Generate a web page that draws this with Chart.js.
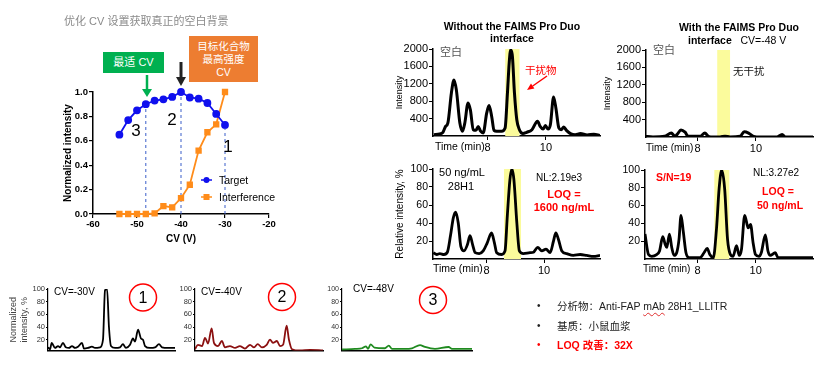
<!DOCTYPE html>
<html>
<head>
<meta charset="utf-8">
<script src="https://cdn.jsdelivr.net/npm/chart.js@4.4.1/dist/chart.umd.min.js"></script>
<style>
  body { margin: 0; background: #fff; }
  #page { position: relative; width: 836px; height: 372px; overflow: hidden; font-family: "Liberation Sans", "Noto Sans CJK SC", sans-serif; color: #000; }
  canvas, svg, .t { position: absolute; }
  .t { white-space: nowrap; transform: translateY(-50%); line-height: 1.15; }
  .c { transform: translate(-50%, -50%); text-align: center; }
  .red { color: #ff0000; font-weight: bold; }
  .box { position: absolute; color: #fff; text-align: center; }
</style>
</head>
<body>
<div id="page">
  <canvas id="cvChart" width="223" height="164" style="left:58px;top:82px"></canvas>
  <canvas id="chromA" width="215" height="113" style="left:390px;top:39px"></canvas>
  <canvas id="chromB" width="218" height="113" style="left:600px;top:40px"></canvas>
  <canvas id="chromC" width="215" height="116" style="left:390px;top:159px"></canvas>
  <canvas id="chromD" width="218" height="115" style="left:600px;top:160px"></canvas>
  <canvas id="mini1" width="178" height="77" style="left:0px;top:279px"></canvas>
  <canvas id="mini2" width="176" height="77" style="left:150px;top:279px"></canvas>
  <canvas id="mini3" width="175" height="77" style="left:300px;top:279px"></canvas>

  <svg width="836" height="372" style="left:0;top:0">
    <!-- arrows -->
    <line x1="147" y1="75" x2="147" y2="90" stroke="#00b050" stroke-width="2.5"/>
    <polygon points="142,89 152,89 147,97" fill="#00b050"/>
    <line x1="181" y1="62" x2="181" y2="78" stroke="#222" stroke-width="3"/>
    <polygon points="176,77 186,77 181,86" fill="#222"/>
    <line x1="547" y1="76" x2="532.7" y2="86" stroke="#ff0000" stroke-width="1.5"/>
    <polygon points="527,90 534.4,88.5 531,83.5" fill="#ff0000"/>
    <!-- legend markers -->
    <line x1="201" y1="180" x2="212" y2="180" stroke="#1010ee" stroke-width="1.5"/>
    <circle cx="206.5" cy="180" r="3" fill="#1010ee"/>
    <line x1="201" y1="197" x2="212" y2="197" stroke="#ff8c1a" stroke-width="1.5"/>
    <rect x="203.5" y="194" width="6" height="6" fill="#ff8c1a"/>
    <!-- numbered circles -->
    <circle cx="143" cy="297.5" r="13.5" fill="none" stroke="#ff0000" stroke-width="1.5"/>
    <circle cx="282" cy="297" r="13.5" fill="none" stroke="#ff0000" stroke-width="1.5"/>
    <circle cx="433" cy="300" r="13.5" fill="none" stroke="#ff0000" stroke-width="1.5"/>
  </svg>

  <div class="t" style="left:64px;top:21px;font-size:11px;color:#8a8a8a">优化 CV 设置获取真正的空白背景</div>
  <div class="box" style="left:103px;top:52px;width:61px;height:21px;line-height:21px;font-size:11px;background:#00b050">最适 CV</div>
  <div class="box" style="left:189px;top:36px;width:69px;height:42px;padding-top:4px;line-height:13px;font-size:10.5px;background:#ed7d31">目标化合物<br>最高强度<br>CV</div>
  <div class="t c" style="left:136px;top:131px;font-size:17px">3</div>
  <div class="t c" style="left:172px;top:120px;font-size:17px">2</div>
  <div class="t c" style="left:228px;top:147px;font-size:17px">1</div>
  <div class="t" style="left:219px;top:180px;font-size:10.5px">Target</div>
  <div class="t" style="left:219px;top:197px;font-size:10.5px">Interference</div>

  <div class="t c" style="left:512px;top:26px;font-size:10.5px;font-weight:bold">Without the FAIMS Pro Duo</div>
  <div class="t c" style="left:512px;top:38px;font-size:10.5px;font-weight:bold">interface</div>
  <div class="t c" style="left:739px;top:27px;font-size:10.5px;font-weight:bold">With the FAIMS Pro Duo</div>
  <div class="t" style="left:688px;top:40px;font-size:10.5px"><b>interface</b>&nbsp;&nbsp;&nbsp;CV=-48 V</div>
  <div class="t" style="left:440px;top:52px;font-size:11px;color:#555">空白</div>
  <div class="t" style="left:653px;top:50px;font-size:11px;color:#555">空白</div>
  <div class="t" style="left:525px;top:70px;font-size:10.5px;color:#ff0000">干扰物</div>
  <div class="t" style="left:733px;top:71px;font-size:10.5px;color:#111">无干扰</div>
  <div class="t" style="left:435px;top:146px;font-size:10.5px">Time (min)</div>
  <div class="t" style="left:646px;top:148px;font-size:10px">Time (min)</div>
  <div class="t" style="left:433px;top:268px;font-size:10.5px">Time (min)</div>
  <div class="t" style="left:643px;top:269px;font-size:10px">Time (min)</div>

  <div class="t c" style="left:462px;top:172px;font-size:11px">50 ng/mL</div>
  <div class="t c" style="left:461px;top:186px;font-size:11px">28H1</div>
  <div class="t" style="left:536px;top:178px;font-size:10px">NL:2.19e3</div>
  <div class="t c red" style="left:564px;top:194px;font-size:11px">LOQ =</div>
  <div class="t c red" style="left:564px;top:207px;font-size:11px">1600 ng/mL</div>
  <div class="t" style="left:656px;top:177px;font-size:10.5px;color:#ff0000;font-weight:bold">S/N=19</div>
  <div class="t" style="left:753px;top:173px;font-size:10px">NL:3.27e2</div>
  <div class="t c red" style="left:778px;top:191px;font-size:10.5px">LOQ =</div>
  <div class="t c red" style="left:780px;top:205px;font-size:10.5px">50 ng/mL</div>

  <div class="t" style="left:54px;top:292px;font-size:10px">CV=-30V</div>
  <div class="t" style="left:201px;top:292px;font-size:10px">CV=-40V</div>
  <div class="t" style="left:353px;top:289px;font-size:10px">CV=-48V</div>
  <div class="t c" style="left:143px;top:298px;font-size:16px">1</div>
  <div class="t c" style="left:282px;top:297px;font-size:16px">2</div>
  <div class="t c" style="left:433px;top:300px;font-size:16px">3</div>

  <div class="t" style="left:537px;top:306px;font-size:10px;color:#222">•</div>
  <div class="t" style="left:537px;top:326px;font-size:10px;color:#222">•</div>
  <div class="t" style="left:537px;top:345px;font-size:10px;color:#ff0000">•</div>
  <div class="t" style="left:557px;top:306px;font-size:10.5px;color:#222">分析物：Anti-FAP <span style="text-decoration:underline wavy #e03030;text-decoration-thickness:1px;text-underline-offset:2px">mAb</span> 28H1_LLITR</div>
  <div class="t" style="left:557px;top:326px;font-size:10.5px;color:#222">基质：小鼠血浆</div>
  <div class="t red" style="left:557px;top:345px;font-size:10.5px">LOQ 改善：32X</div>
</div>

<script>
Chart.defaults.font.family = '"Liberation Sans", "Noto Sans CJK SC", sans-serif';
Chart.defaults.color = "#000";

// CV optimisation curve
const cvValues = [-54, -52, -50, -48, -46, -44, -42, -40, -38, -36, -34, -32, -30];
const targetIntensity = [0.65, 0.77, 0.85, 0.9, 0.93, 0.94, 0.96, 1.0, 0.955, 0.945, 0.91, 0.82, 0.73];
const interferenceIntensity = [0, 0, 0, 0, 0.005, 0.065, 0.055, 0.13, 0.24, 0.52, 0.67, 0.735, 1.0];
const guideCv = [-48, -40, -30];
const guideTop = [0.9, 1.0, 0.73];

// chromatograms, time in min
const timeTicks = [8, 10];
const intensityTicks = [400, 800, 1200, 1600, 2000];
const percentTicks = [20, 40, 60, 80, 100];
const bandTime = [8.6, 9.1];

const blankNoFaimsTime = [6.16, 6.36, 6.47, 6.56, 6.64, 6.76, 6.85, 6.93, 7.05, 7.14, 7.22, 7.33, 7.41, 7.51, 7.6, 7.68, 7.76, 7.85, 7.97, 8.05, 8.14, 8.22, 8.31, 8.48, 8.6, 8.68, 8.74, 8.79, 8.85, 8.92, 9.0, 9.09, 9.21, 9.34, 9.52, 9.71, 9.8, 9.9, 9.98, 10.07, 10.15, 10.26, 10.34, 10.44, 10.52, 10.61, 10.7, 10.84, 11.0, 11.18, 11.41, 11.64, 11.85];
const blankNoFaims = [30, 50, 85, 220, 300, 990, 1290, 1060, 300, 110, 300, 760, 600, 145, 130, 220, 110, 70, 530, 700, 450, 130, 110, 110, 185, 990, 1680, 1980, 1830, 990, 375, 145, 55, 85, 145, 340, 220, 160, 240, 160, 260, 895, 640, 185, 145, 205, 130, 55, 30, 55, 25, 40, 10];

const blankFaimsTime = [6.18, 6.47, 6.87, 7.1, 7.22, 7.3, 7.43, 7.57, 7.68, 7.85, 8.08, 8.25, 8.37, 8.54, 8.77, 8.94, 9.11, 9.46, 9.6, 9.75, 9.92, 10.15, 10.72, 10.9, 11.01, 11.96];
const blankFaims = [15, 0, 15, 90, 15, 60, 160, 110, 15, 15, 15, 90, 15, 0, 0, 20, 0, 15, 120, 90, 15, 0, 0, 60, 0, 0];

const sampleNoFaimsTime = [6.14, 6.26, 6.37, 6.51, 6.63, 6.74, 6.84, 6.92, 7.01, 7.1, 7.21, 7.33, 7.42, 7.51, 7.6, 7.74, 7.88, 8.02, 8.17, 8.27, 8.35, 8.52, 8.64, 8.72, 8.81, 8.88, 8.95, 9.05, 9.14, 9.28, 9.51, 9.63, 9.78, 9.92, 10.07, 10.21, 10.33, 10.41, 10.5, 10.62, 10.79, 11.02, 11.26, 11.49, 11.72, 11.95];
const sampleNoFaims = [7, 5, 6, 5, 7.5, 26, 46, 52, 40, 14, 9, 16, 26, 16, 7, 6, 9, 18, 29, 18, 7, 5, 9, 48, 88, 100, 88, 41, 9, 6, 7, 7.5, 13, 9, 11, 7, 20, 29, 22, 9, 6, 4, 5, 4, 3, 4];

const sampleFaimsTime = [6.19, 6.31, 6.42, 6.59, 6.69, 6.8, 6.88, 6.94, 7.03, 7.11, 7.19, 7.28, 7.36, 7.43, 7.51, 7.6, 7.71, 7.91, 8.08, 8.22, 8.33, 8.42, 8.54, 8.65, 8.74, 8.83, 8.93, 9.03, 9.13, 9.22, 9.34, 9.43, 9.51, 9.62, 9.74, 9.82, 9.91, 9.99, 10.11, 10.19, 10.33, 10.42, 10.5, 10.67, 10.77, 11.05, 11.97];
const sampleFaims = [28, 5, 3, 5, 9, 25, 17, 13, 28, 13, 4, 7, 22, 49, 30, 7, 1.5, 1.5, 1.5, 7, 12, 5, 1.5, 34, 79, 100, 79, 22, 5, 3, 15, 4, 11, 49, 35, 39, 18, 5, 3, 7, 27, 9, 4, 7, 1.5, 1.5, 1.5];

// small traces at three CVs, x is relative run position 0-100
const cv30Pos = [0, 1.6, 2.9, 5.5, 7.9, 9.4, 11.8, 14, 16.5, 18.9, 21.3, 23.6, 26.8, 28.3, 31.5, 34.6, 37, 41, 43.3, 44.9, 46.5, 48, 49.6, 52.8, 56.7, 59, 61.4, 64.6, 66.9, 68.5, 70.9, 73.2, 74.8, 76.4, 80.3, 84.3, 87.4, 89.8, 94.5, 100];
const cv30Trace = [8, 5, 15, 7, 10, 8, 15, 8, 7, 10, 7, 9, 15, 6, 7, 9, 7, 8, 20, 98, 100, 40, 10, 7, 8, 13, 7, 12, 22, 17, 36, 22, 20, 10, 7, 8, 13, 8, 7, 7];
const cv40Pos = [0, 2.3, 5.5, 7.8, 10.2, 13, 14.8, 18, 21, 23.4, 27.3, 31.3, 35, 39, 43, 46.1, 49, 52.3, 56, 58.6, 60.9, 64, 66.4, 68.8, 71.6, 73.4, 75.8, 82, 90, 100];
const cv40Trace = [5, 12, 10, 23, 14, 38, 15, 10, 18, 8, 10, 7, 10, 6, 12, 8, 13, 8, 12, 20, 15, 18, 10, 12, 42, 20, 5, 3, 4, 3];
const cv48Pos = [0, 10, 15.4, 18.5, 20, 22, 25, 33, 36, 38.5, 48.5, 53.8, 60, 63.8, 71.5, 82, 84.6, 100];
const cv48Trace = [5, 6, 7, 10, 6, 13, 8, 7, 11, 6, 6, 7, 12, 9, 6, 9, 6, 6];

const pairs = (xs, ys) => xs.map((x, i) => ({ x: x, y: ys[i] }));

const cvDatasets = [
  {
    label: "Target",
    data: pairs(cvValues, targetIntensity),
    borderColor: "#1010ee",
    backgroundColor: "#1010ee",
    borderWidth: 1.8,
    pointRadius: 3,
    pointStyle: "circle",
    clip: false,
    order: 1,
  },
  {
    label: "Interference",
    data: pairs(cvValues, interferenceIntensity),
    borderColor: "#ff8c1a",
    backgroundColor: "#ff8c1a",
    borderWidth: 1.8,
    pointRadius: 3.2,
    pointStyle: "rect",
    clip: false,
    order: 1,
  },
];
guideCv.forEach((cv, i) => {
  cvDatasets.push({
    data: [{ x: cv, y: 0 }, { x: cv, y: guideTop[i] }],
    borderColor: "#3b5fc9",
    borderWidth: 1,
    borderDash: [3, 3],
    pointRadius: 0,
    order: 3,
  });
});

new Chart(document.getElementById("cvChart"), {
  type: "line",
  data: { datasets: cvDatasets },
  options: {
    responsive: false,
    animation: false,
    layout: { padding: { top: 10, right: 12, left: 0, bottom: 0 } },
    plugins: { legend: { display: false }, tooltip: { enabled: false } },
    scales: {
      x: {
        type: "linear",
        min: -60,
        max: -20,
        afterFit: (s) => { s.height = 32; },
        ticks: { stepSize: 10, font: { size: 9.5, weight: "bold" }, padding: 1, maxRotation: 0 },
        grid: { drawOnChartArea: false, tickLength: 4, color: "#000", lineWidth: 1.2 },
        border: { color: "#000", width: 1.5 },
        title: { display: true, text: "CV (V)", font: { size: 10, weight: "bold" }, padding: { top: 2, bottom: 1 } },
      },
      y: {
        min: 0,
        max: 1,
        afterFit: (s) => { s.width = 35; },
        ticks: { stepSize: 0.2, font: { size: 9.5, weight: "bold" }, padding: 1, callback: (v) => v.toFixed(1) },
        grid: { drawOnChartArea: false, tickLength: 4, color: "#000", lineWidth: 1.2 },
        border: { color: "#000", width: 1.5 },
        title: { display: true, text: "Normalized intensity", font: { size: 10, weight: "bold" }, padding: { top: 4, bottom: 0 } },
      },
    },
  },
});

function chrom(id, o) {
  const datasets = [
    {
      data: pairs(o.time, o.values),
      borderColor: o.color,
      borderWidth: o.lineWidth,
      pointRadius: 0,
      tension: 0.4,
      cubicInterpolationMode: "monotone",
      order: 1,
    },
  ];
  if (o.band) {
    datasets.push({
      data: [{ x: o.band[0], y: o.yMax }, { x: o.band[1], y: o.yMax }],
      borderWidth: 0,
      pointRadius: 0,
      backgroundColor: "#fbfb9c",
      fill: "origin",
      order: 2,
    });
  }
  return new Chart(document.getElementById(id), {
    type: "line",
    data: { datasets: datasets },
    options: {
      responsive: false,
      animation: false,
      layout: { padding: { top: 10, right: o.padRight, left: 0, bottom: 0 } },
      plugins: { legend: { display: false }, tooltip: { enabled: false } },
      scales: {
        x: {
          type: "linear",
          min: o.xMin,
          max: o.xMax,
          afterBuildTicks: (s) => { if (o.xTicks) s.ticks = o.xTicks.map((v) => ({ value: v })); },
          afterFit: (s) => { s.height = o.xHeight; },
          ticks: { display: !!o.xTicks, font: { size: 11 }, padding: 1, maxRotation: 0, callback: (v) => String(v) },
          grid: { drawOnChartArea: false, drawTicks: !!o.xTicks, tickLength: 4, color: "#000" },
          border: { color: "#000", width: 1.5 },
        },
        y: {
          min: o.yMin,
          max: o.yMax,
          afterBuildTicks: (s) => { s.ticks = o.yTicks.map((v) => ({ value: v })); },
          afterFit: (s) => { s.width = o.yWidth; },
          ticks: { font: { size: o.tickSize }, color: o.tickColor || "#000", padding: 1, callback: (v) => String(v) },
          grid: { drawOnChartArea: false, tickLength: o.tickLen || 4, color: "#000" },
          border: { color: "#000", width: o.axisWidth || 1.5 },
          title: {
            display: !!o.yTitle,
            text: o.yTitle,
            font: { size: o.titleSize || 9 },
            color: o.titleColor || "#000",
            padding: { top: o.titlePad || 4, bottom: 0 },
          },
        },
      },
    },
  });
}

chrom("chromA", {
  time: blankNoFaimsTime, values: blankNoFaims, color: "#000", lineWidth: 3, band: bandTime,
  xMin: 6.13, xMax: 11.85, xTicks: timeTicks, xHeight: 16, padRight: 5,
  yMin: 0, yMax: 2000, yTicks: intensityTicks, yWidth: 43, tickSize: 11, yTitle: "Intensity", titleSize: 9,
});
chrom("chromB", {
  time: blankFaimsTime, values: blankFaims, color: "#000", lineWidth: 3, band: [8.67, 9.12],
  xMin: 6.23, xMax: 11.96, xTicks: timeTicks, xHeight: 16, padRight: 5,
  yMin: 0, yMax: 2000, yTicks: intensityTicks, yWidth: 46, tickSize: 11, yTitle: "Intensity", titleSize: 9, titlePad: 2,
});
chrom("chromC", {
  time: sampleNoFaimsTime, values: sampleNoFaims, color: "#000", lineWidth: 2.8, band: [8.6, 9.2],
  xMin: 6.13, xMax: 11.95, xTicks: timeTicks, xHeight: 16, padRight: 5,
  yMin: 0, yMax: 100, yTicks: percentTicks, yWidth: 43, tickSize: 10.5, yTitle: "Relative intensity, %", titleSize: 10,
});
chrom("chromD", {
  time: sampleFaimsTime, values: sampleFaims, color: "#000", lineWidth: 2.8, band: [8.57, 9.1],
  xMin: 6.19, xMax: 11.97, xTicks: timeTicks, xHeight: 16, padRight: 5,
  yMin: 0, yMax: 100, yTicks: percentTicks, yWidth: 45, tickSize: 10.5,
});

chrom("mini1", {
  time: cv30Pos, values: cv30Trace, color: "#000", lineWidth: 1.8,
  xMin: 0, xMax: 100, xHeight: 4, padRight: 3,
  yMin: 3, yMax: 100, yTicks: percentTicks, yWidth: 48, tickSize: 7.5, tickColor: "#333", tickLen: 2, axisWidth: 1.2,
  yTitle: ["Normalized", "intensity, %"], titleSize: 9, titleColor: "#444", titlePad: 8,
});
chrom("mini2", {
  time: cv40Pos, values: cv40Trace, color: "#8b1010", lineWidth: 1.8,
  xMin: 0, xMax: 100, xHeight: 4, padRight: 3,
  yMin: 3, yMax: 100, yTicks: percentTicks, yWidth: 45, tickSize: 7.5, tickColor: "#333", tickLen: 2, axisWidth: 1.2,
});
chrom("mini3", {
  time: cv48Pos, values: cv48Trace, color: "#1f8a1f", lineWidth: 1.8,
  xMin: 0, xMax: 100, xHeight: 4, padRight: 3,
  yMin: 3, yMax: 100, yTicks: percentTicks, yWidth: 42, tickSize: 7, tickColor: "#333", tickLen: 2, axisWidth: 1.2,
});
</script>
</body>
</html>
